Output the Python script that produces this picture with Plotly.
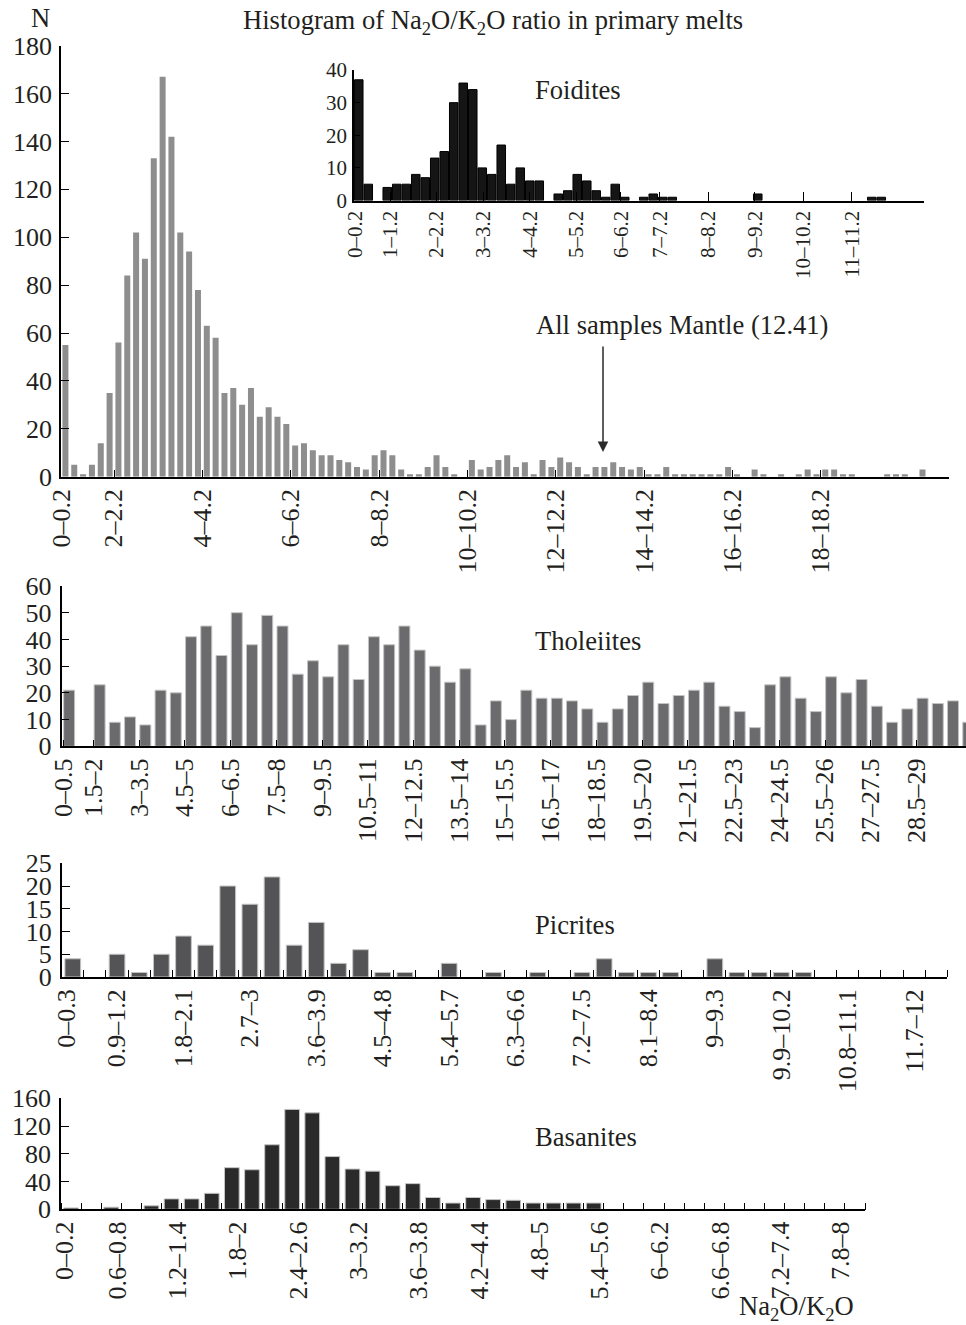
import plotly.graph_objects as go

W, H = 966, 1325
FONT = "Liberation Serif"
TXT = "#231f20"

# ---------------- data ----------------
all_labels = ["0–0.2", "2–2.2", "4–4.2", "6–6.2", "8–8.2", "10–10.2",
              "12–12.2", "14–14.2", "16–16.2", "18–18.2"]
all_counts = [55, 5, 1, 5, 14, 35, 56, 84, 102, 91,
              133, 167, 142, 102, 94, 78, 63, 58, 35, 37,
              30, 37, 25, 29, 25, 22, 13, 14, 11, 9,
              9, 7, 6, 4, 3, 9, 11, 9, 3, 1,
              1, 4, 9, 4, 1, 0, 7, 3, 4, 7,
              9, 4, 6, 1, 7, 4, 8, 6, 4, 1,
              4, 4, 6, 4, 3, 4, 1, 1, 4, 1,
              1, 1, 1, 1, 1, 4, 1, 0, 3, 1,
              0, 1, 0, 1, 3, 1, 3, 3, 1, 1,
              0, 0, 0, 1, 1, 1, 0, 3, 0, 0]

foid_labels = ["0–0.2", "1–1.2", "2–2.2", "3–3.2", "4–4.2", "5–5.2", "6–6.2",
               "7–7.2", "8–8.2", "9–9.2", "10–10.2", "11–11.2"]
foid_counts = [37, 5, 0, 4, 5, 5, 8, 7, 13, 15,
               30, 36, 34, 10, 8, 17, 5, 10, 6, 6,
               0, 2, 3, 8, 6, 3, 1, 5, 1, 0,
               1, 2, 1, 1, 0, 0, 0, 0, 0, 0,
               0, 0, 2, 0, 0, 0, 0, 0, 0, 0,
               0, 0, 0, 0, 1, 1, 0, 0, 0, 0]

thol_labels = ["0–0.5", "1.5–2", "3–3.5", "4.5–5", "6–6.5", "7.5–8", "9–9.5",
               "10.5–11", "12–12.5", "13.5–14", "15–15.5", "16.5–17", "18–18.5",
               "19.5–20", "21–21.5", "22.5–23", "24–24.5", "25.5–26", "27–27.5",
               "28.5–29"]
thol_counts = [21, 0, 23, 9, 11, 8, 21, 20, 41, 45,
               34, 50, 38, 49, 45, 27, 32, 26, 38, 25,
               41, 38, 45, 36, 30, 24, 29, 8, 17, 10,
               21, 18, 18, 17, 14, 9, 14, 19, 24, 16,
               19, 21, 24, 15, 13, 7, 23, 26, 18, 13,
               26, 20, 25, 15, 9, 14, 18, 16, 17, 9]

pic_labels = ["0–0.3", "0.9–1.2", "1.8–2.1", "2.7–3", "3.6–3.9", "4.5–4.8",
              "5.4–5.7", "6.3–6.6", "7.2–7.5", "8.1–8.4", "9–9.3", "9.9–10.2",
              "10.8–11.1", "11.7–12"]
pic_counts = [4, 0, 5, 1, 5, 9, 7, 20, 16, 22,
              7, 12, 3, 6, 1, 1, 0, 3, 0, 1,
              0, 1, 0, 1, 4, 1, 1, 1, 0, 4,
              1, 1, 1, 1, 0, 0, 0, 0, 0, 0]

bas_labels = ["0–0.2", "0.6–0.8", "1.2–1.4", "1.8–2", "2.4–2.6", "3–3.2",
              "3.6–3.8", "4.2–4.4", "4.8–5", "5.4–5.6", "6–6.2", "6.6–6.8",
              "7.2–7.4", "7.8–8"]
bas_counts = [2, 0, 3, 0, 5, 15, 15, 23, 60, 57,
              93, 144, 139, 76, 58, 55, 34, 37, 17, 9,
              17, 14, 13, 9, 9, 9, 9, 0, 0, 0,
              0, 0, 0, 0, 0, 0, 0, 0, 0, 0]

# ---------------- helpers ----------------
def fx(px):
    return px / W


def fy(py):
    return 1 - py / H


def nz(vals):
    # empty bins are drawn as no bar at all
    return [v if v else None for v in vals]


def xaxis(dom_px, rng, tickvals, ticktext, anchor, size=26, ticklen=7,
          ticks="inside", minor=None):
    d = dict(domain=[fx(dom_px[0]), min(1.0, fx(dom_px[1]))], range=rng,
             anchor=anchor, showline=True, linecolor="black", linewidth=1.6,
             ticks=ticks, ticklen=ticklen, tickwidth=1.3, tickcolor="black",
             tickmode="array", tickvals=tickvals, ticktext=ticktext,
             tickangle=-90, showgrid=False, zeroline=False, automargin=False,
             tickfont=dict(family=FONT, size=size, color=TXT))
    if minor:
        d["minor"] = minor
    return d


def yaxis(dom_px, rng, dtick, anchor, size=26, ticklen=8, standoff=2):
    return dict(domain=[fy(dom_px[1]), fy(dom_px[0])], range=rng,
                anchor=anchor, showline=True, linecolor="black",
                linewidth=1.6, ticks="inside", ticklen=ticklen, tickwidth=1.3,
                tickcolor="black", tickmode="linear", tick0=0, dtick=dtick,
                showgrid=False, zeroline=False, automargin=False,
                ticklabelstandoff=standoff,
                tickfont=dict(family=FONT, size=size, color=TXT))


fig = go.Figure()

fig.add_trace(go.Bar(x=list(range(len(all_counts))), y=nz(all_counts),
                     width=0.68, marker=dict(color="#8e8e8e", line=dict(width=0)),
                     xaxis="x", yaxis="y"))
fig.add_trace(go.Bar(x=list(range(len(foid_counts))), y=nz(foid_counts),
                     width=0.9, marker=dict(color="#151515",
                                            line=dict(color="#000000", width=1)),
                     xaxis="x2", yaxis="y2"))
fig.add_trace(go.Bar(x=list(range(len(thol_counts))), y=nz(thol_counts),
                     width=0.72, marker=dict(color="#6b6b6d",
                                             line=dict(color="#c4c4c4", width=1)),
                     xaxis="x3", yaxis="y3"))
fig.add_trace(go.Bar(x=list(range(len(pic_counts))), y=nz(pic_counts),
                     width=0.71, marker=dict(color="#545456",
                                             line=dict(color="#c4c4c4", width=1)),
                     xaxis="x4", yaxis="y4"))
fig.add_trace(go.Bar(x=list(range(len(bas_counts))), y=nz(bas_counts),
                     width=0.73, marker=dict(color="#2a2a2a",
                                             line=dict(color="#c4c4c4", width=1)),
                     xaxis="x5", yaxis="y5"))

main_tv = [-0.4] + [5.5 + 10 * k for k in range(len(all_labels) - 1)]
foid_tv = [-0.4, 3.3, 8.2, 13.1, 18.0, 22.9, 27.6, 31.7, 36.8, 41.7, 46.8, 51.9]
thol_tv = [-0.35] + [1.6 + 3 * k for k in range(len(thol_labels) - 1)]
pic_tv = [-0.3] + [2 + 3 * k for k in range(len(pic_labels) - 1)]
bas_tv = [-0.3] + [2.3 + 3 * k for k in range(len(bas_labels) - 1)]

minor_every = dict(tickmode="linear", tick0=0.5, dtick=1, ticks="inside",
                   ticklen=7, tickwidth=1.3, tickcolor="black")

fig.update_layout(
    width=W, height=H, margin=dict(l=0, r=0, t=0, b=0, autoexpand=False),
    paper_bgcolor="white", plot_bgcolor="rgba(0,0,0,0)", showlegend=False,
    xaxis=xaxis((61, 949), [-0.5, 100], main_tv, all_labels, "y"),
    yaxis=yaxis((45.7, 476.7), [0, 180], 20, "x"),
    xaxis2=xaxis((354, 924), [-0.5, 59.5], foid_tv, foid_labels, "y2",
                 size=21, ticklen=9),
    yaxis2=yaxis((70, 200.5), [0, 40], 10, "x2", size=21, ticklen=6,
                 standoff=1),
    xaxis3=xaxis((61.5, 966), [-0.5, 58.85], thol_tv, thol_labels, "y3"),
    yaxis3=yaxis((586, 746.3), [0, 60], 10, "x3", standoff=3),
    xaxis4=xaxis((61.7, 947.3), [-0.5, 39.5], pic_tv, pic_labels, "y4",
                 ticks="", minor=minor_every),
    yaxis4=yaxis((863.3, 977), [0, 25], 5, "x4", standoff=3),
    xaxis5=xaxis((61, 865), [-0.5, 39.5], bas_tv, bas_labels, "y5",
                 ticks="", minor=minor_every),
    yaxis5=yaxis((1098.3, 1209.3), [0, 160], 40, "x5", standoff=3),
)


def note(text, px, py, size=26.6, xanchor="center"):
    fig.add_annotation(text=text, x=fx(px), y=fy(py), xref="paper",
                       yref="paper", showarrow=False, xanchor=xanchor,
                       yanchor="middle",
                       font=dict(family=FONT, size=size, color=TXT))


note("Histogram of Na<sub>2</sub>O/K<sub>2</sub>O ratio in primary melts", 493, 22)
note("N", 40, 18)
note("Foidites", 578, 90)
note("All samples Mantle (12.41)", 682, 325)
note("Tholeiites", 588, 641)
note("Picrites", 575, 925)
note("Basanites", 586, 1137)
note("Na<sub>2</sub>O/K<sub>2</sub>O", 796, 1308)

fig.add_annotation(x=fx(603), y=fy(452), xref="paper", yref="paper",
                   ax=0, ay=-107, axref="pixel", ayref="pixel", text="",
                   showarrow=True, arrowhead=2, arrowsize=1.4, arrowwidth=1.5,
                   arrowcolor="#2a2a2a")

fig.write_html("out.html")
